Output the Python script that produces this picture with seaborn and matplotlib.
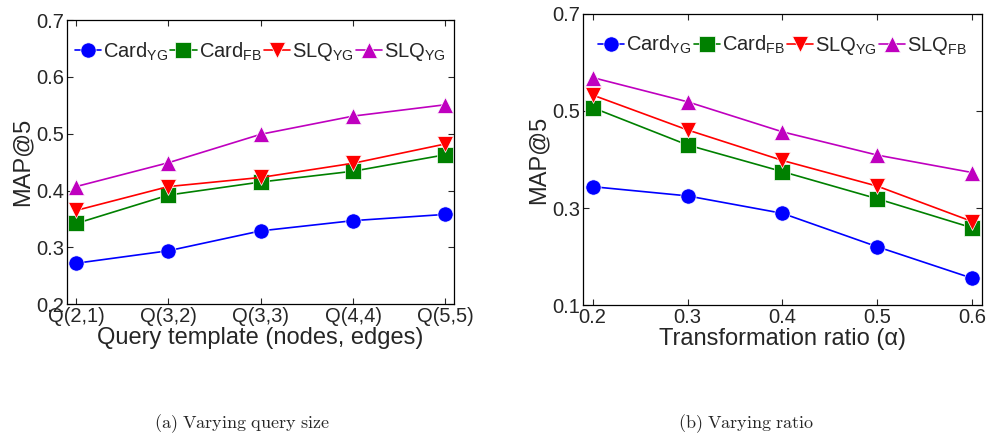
import numpy as np
import pandas as pd
import seaborn as sns
import matplotlib.pyplot as plt

# Data ########################################################################
methods_a = ["Card$_{\\rm YG}$", "Card$_{\\rm FB}$", "SLQ$_{\\rm YG}$", "SLQ$_{ \\rm YG}$"]
methods_b = ["Card$_{\\rm YG}$", "Card$_{\\rm FB}$", "SLQ$_{\\rm YG}$", "SLQ$_{\\rm FB}$"]

templates = ["Q(2,1)", "Q(3,2)", "Q(3,3)", "Q(4,4)", "Q(5,5)"]
card_yg_a = [0.272, 0.294, 0.329, 0.347, 0.358]
card_fb_a = [0.342, 0.392, 0.415, 0.434, 0.463]
slq_yg_a = [0.365, 0.407, 0.423, 0.448, 0.482]
slq_fb_a = [0.407, 0.449, 0.499, 0.531, 0.551]

ratios = [0.2, 0.3, 0.4, 0.5, 0.6]
card_yg_b = [0.344, 0.325, 0.289, 0.220, 0.155]
card_fb_b = [0.507, 0.430, 0.375, 0.319, 0.259]
slq_yg_b = [0.533, 0.461, 0.398, 0.345, 0.272]
slq_fb_b = [0.569, 0.519, 0.457, 0.409, 0.373]

colors = ["#0000ff", "#008000", "#ff0000", "#bf00bf"]
markers = ["o", "s", "v", "^"]

# Style #######################################################################
sns.set_theme(style="white")
plt.rcParams["font.family"] = ["Liberation Sans", "DejaVu Sans"]
plt.rcParams["mathtext.fontset"] = "custom"
plt.rcParams["mathtext.rm"] = "Liberation Sans"
plt.rcParams["mathtext.it"] = "Liberation Sans"
plt.rcParams["xtick.direction"] = "in"
plt.rcParams["ytick.direction"] = "in"


def long_form(x, series, names):
    frames = []
    for vals, name in zip(series, names):
        frames.append(pd.DataFrame({"x": x, "y": vals, "method": name}))
    return pd.concat(frames, ignore_index=True)


def draw(ax, df, names):
    sns.lineplot(data=df, x="x", y="y", hue="method", style="method",
                 hue_order=names, style_order=names,
                 palette=dict(zip(names, colors)),
                 markers=dict(zip(names, markers)), dashes=False,
                 markersize=11, linewidth=1.2, markeredgewidth=0.5, ax=ax)
    ax.tick_params(axis="both", which="both", top=True, right=True,
                   bottom=True, left=True, labelsize=14.5, length=4,
                   width=0.8, pad=2)
    for s in ax.spines.values():
        s.set_color("black")
        s.set_linewidth(0.9)
    ax.set_ylabel("MAP@5", fontsize=17, labelpad=2)
    handles, labels = ax.get_legend_handles_labels()
    ax.legend(handles, labels, loc="upper center", ncol=4, frameon=False,
              fontsize=14.5, handlelength=1.3, handletextpad=0.1,
              columnspacing=0.1, borderaxespad=0.6,
              bbox_to_anchor=(0.5, 1.0))


fig = plt.figure(figsize=(9.89, 4.37), dpi=100)
ax1 = fig.add_axes([0.0677, 0.304, 0.391, 0.650])
ax2 = fig.add_axes([0.5895, 0.302, 0.4034, 0.666])

# (a) Varying query size #######################################################
df_a = long_form(np.arange(len(templates)),
                 [card_yg_a, card_fb_a, slq_yg_a, slq_fb_a], methods_a)
draw(ax1, df_a, methods_a)
ax1.set_xlim(-0.1, 4.09)
ax1.set_ylim(0.2, 0.7)
ax1.set_xticks(np.arange(len(templates)))
ax1.set_xticklabels(templates)
ax1.set_yticks([0.2, 0.3, 0.4, 0.5, 0.6, 0.7])
ax1.set_yticklabels(["0.2", "0.3", "0.4", "0.5", "0.6", "0.7"])
ax1.set_xlabel("Query template (nodes, edges)", fontsize=17, labelpad=1)

# (b) Varying ratio ############################################################
df_b = long_form(ratios, [card_yg_b, card_fb_b, slq_yg_b, slq_fb_b], methods_b)
draw(ax2, df_b, methods_b)
ax2.set_xlim(0.19, 0.61)
ax2.set_ylim(0.1, 0.7)
ax2.set_xticks(ratios)
ax2.set_xticklabels(["0.2", "0.3", "0.4", "0.5", "0.6"])
ax2.set_yticks([0.1, 0.3, 0.5, 0.7])
ax2.set_yticklabels(["0.1", "0.3", "0.5", "0.7"])
ax2.set_xlabel("Transformation ratio (\u03b1)", fontsize=17, labelpad=1)

# Captions
fig.text(0.245, 0.02, r"$\mathrm{(a)\ Varying\ query\ size}$", ha="center",
         fontsize=13, math_fontfamily="cm")
fig.text(0.755, 0.02, r"$\mathrm{(b)\ Varying\ ratio}$", ha="center",
         fontsize=13, math_fontfamily="cm")

fig.savefig("out.png", dpi=100)
